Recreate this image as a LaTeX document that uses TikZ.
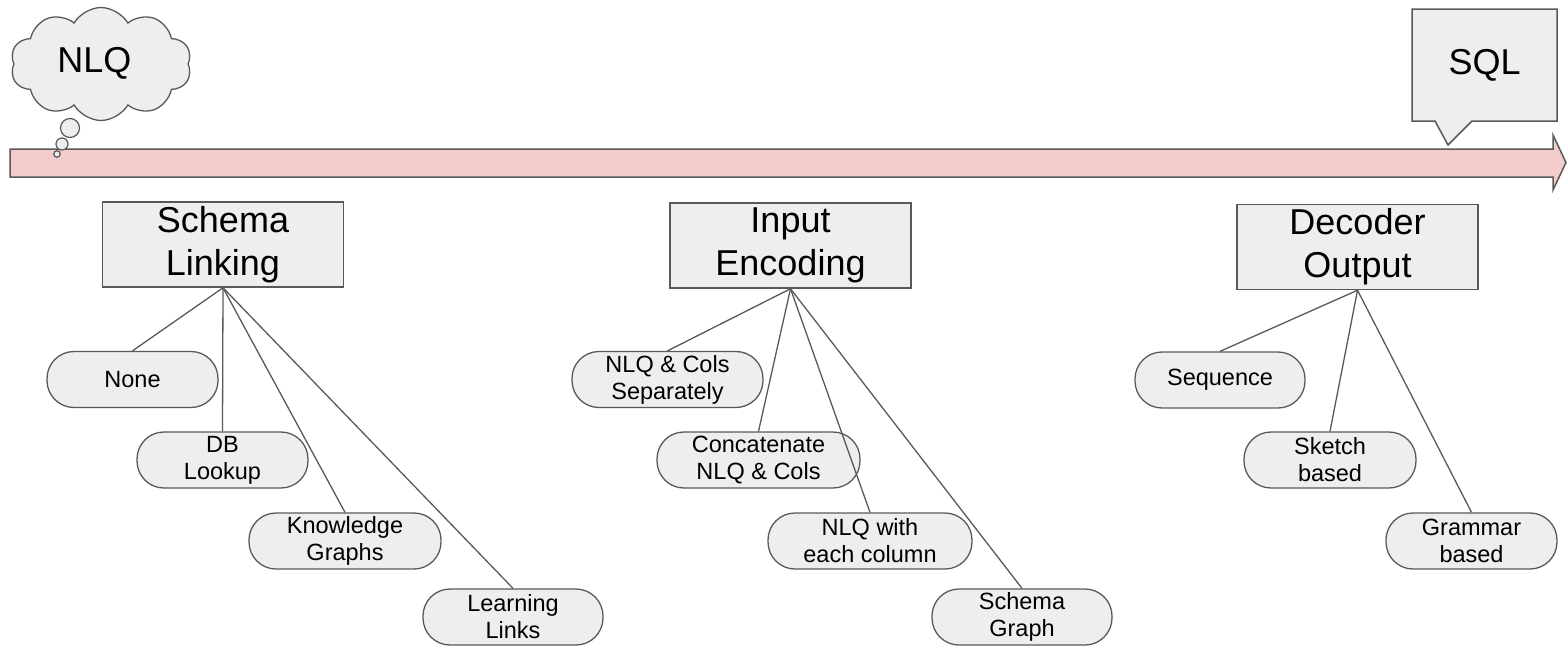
\documentclass[tikz,border=0pt]{standalone}
\usepackage{fontspec}
\setmainfont{Liberation Sans}
\usetikzlibrary{shapes.symbols}
\definecolor{edgegray}{HTML}{595959}
\definecolor{boxfill}{HTML}{EEEEEE}
\definecolor{arrowfill}{HTML}{F4CCCC}
\begin{document}
\begin{tikzpicture}[x=1pt,y=-1pt,
  stage/.style={draw=edgegray, line width=1.5pt, fill=boxfill, minimum width=241pt, minimum height=85pt, inner sep=0pt, align=center, font=\fontsize{36}{43}\selectfont},
  pill/.style={draw=edgegray, line width=1.3pt, fill=boxfill, rounded corners=27pt, minimum height=56pt, inner sep=0pt, align=center, font=\fontsize{23.5}{27}\selectfont},
  link/.style={draw=edgegray, line width=1.3pt},
  bubble/.style={circle, draw=edgegray, line width=1.2pt, fill=boxfill, inner sep=0pt}]
\useasboundingbox (0,0) rectangle (1568,645);
% timeline arrow
\draw[draw=edgegray, line width=1.5pt, fill=arrowfill]
  (10,149) -- (1553,149) -- (1553,135) -- (1566,162.5) -- (1553,190) -- (1553,177) -- (10,177) -- cycle;
% NLQ thought cloud
\node[cloud, cloud puffs=10, cloud puff arc=120, aspect=1.6, draw=edgegray, line width=1.3pt, fill=boxfill,
  minimum width=181pt, minimum height=113pt, inner sep=0pt] (nlqcloud) at (101,64) {};
\node[font=\fontsize{36}{41}\selectfont, inner sep=0pt] (nlq) at (94.5,63.5) {NLQ};
\node[bubble, minimum size=19pt] (b1) at (70,128) {};
\node[bubble, minimum size=12pt] (b2) at (62,144) {};
\node[bubble, minimum size=6.5pt] (b3) at (57,154) {};
% SQL callout
\draw[draw=edgegray, line width=1.5pt, fill=boxfill]
  (1412,9) -- (1557,9) -- (1557,121) -- (1472,121) -- (1448,145) -- (1435,121) -- (1412,121) -- cycle;
\node[font=\fontsize{36}{41}\selectfont, inner sep=0pt] (sql) at (1484.5,65) {SQL};
% stages
\node[stage] (sl) at (223,244.5) {Schema\\Linking};
\node[stage] (ie) at (790.5,245.5) {Input\\Encoding};
\node[stage] (dec) at (1357.5,247) {Decoder\\Output};
% options
\node[pill, minimum width=171pt] (none) at (132.5,379.5) {None};
\node[pill, minimum width=171pt] (db) at (222.5,460) {DB\\Lookup};
\node[pill, minimum width=192pt] (kg) at (345,541) {Knowledge\\Graphs};
\node[pill, minimum width=180pt] (ll) at (513,617) {Learning\\Links};
\node[pill, minimum width=191pt] (sep) at (667.5,379.5) {NLQ \& Cols\\Separately};
\node[pill, minimum width=203pt] (cat) at (758.5,460) {Concatenate\\NLQ \& Cols};
\node[pill, minimum width=204pt] (each) at (870,541) {NLQ with\\each column};
\node[pill, minimum width=180pt] (sg) at (1022,617) {Schema\\Graph};
\node[pill, minimum width=170pt] (seq) at (1220,380) {Sequence};
\node[pill, minimum width=172pt] (sk) at (1330,460) {Sketch\\based};
\node[pill, minimum width=171pt] (gr) at (1471.5,541) {Grammar\\based};
% links
\draw[link] (sl.south) -- (none.north);
\draw[link] (sl.south) -- (db.north);
\draw[link] (sl.south) -- (kg.north);
\draw[link] (sl.south) -- (ll.north);
\draw[link] (ie.south) -- (sep.north);
\draw[link] (ie.south) -- (cat.north);
\draw[link] (ie.south) -- (each.north);
\draw[link] (ie.south) -- (sg.north);
\draw[link] (dec.south) -- (seq.north);
\draw[link] (dec.south) -- (sk.north);
\draw[link] (dec.south) -- (gr.north);
\end{tikzpicture}
\end{document}
